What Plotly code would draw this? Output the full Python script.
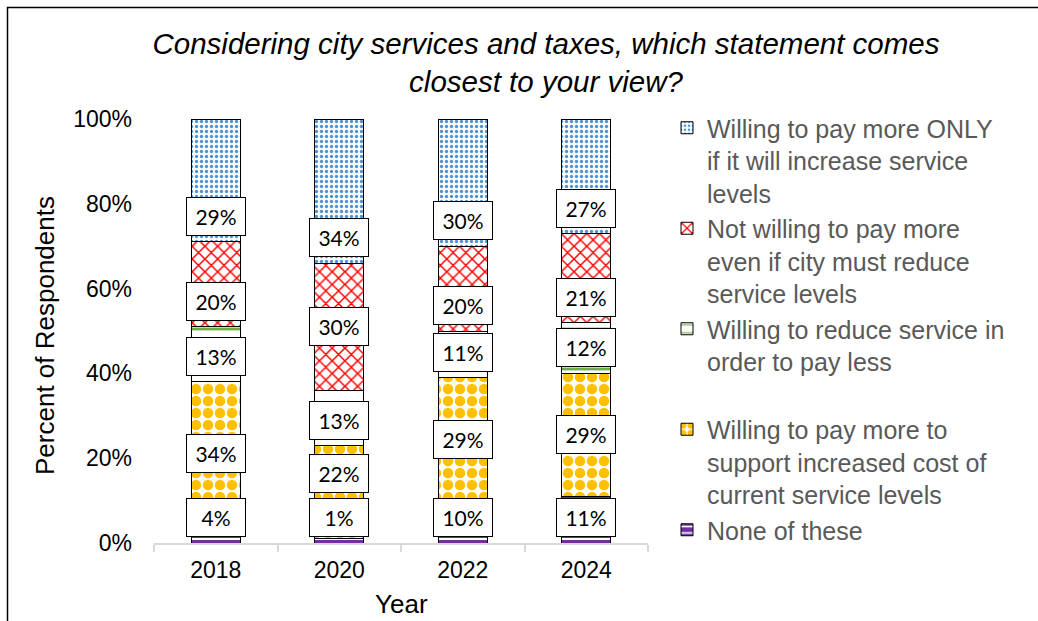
import plotly.graph_objects as go

years = ["2018", "2020", "2022", "2024"]
series_names = [
    "None of these",
    "Willing to pay more to<br>support increased cost of<br>current service levels",
    "Willing to reduce service in<br>order to pay less<br> ",
    "Not willing to pay more<br>even if city must reduce<br>service levels",
    "Willing to pay more ONLY<br>if it will increase service<br>levels",
]
none_of_these = [0.04, 0.01, 0.10, 0.11]
pay_more_support = [0.34, 0.22, 0.29, 0.29]
reduce_service = [0.13, 0.13, 0.11, 0.12]
not_willing = [0.20, 0.30, 0.20, 0.21]
pay_more_only = [0.29, 0.34, 0.30, 0.27]
series_values = [none_of_these, pay_more_support, reduce_service, not_willing, pay_more_only]
y_ticks = [0, 0.2, 0.4, 0.6, 0.8, 1.0]

patterns = [
    dict(shape="-", fgcolor="white", bgcolor="#7030A0", size=8, solidity=0.25, fgopacity=1),
    dict(shape=".", fgcolor="#FFC000", bgcolor="white", size=12, solidity=0.6, fgopacity=1),
    dict(shape="-", fgcolor="#70AD47", bgcolor="white", size=20, solidity=0.14, fgopacity=1),
    dict(shape="x", fgcolor="#FF0000", bgcolor="white", size=9, solidity=0.3, fgopacity=1),
    dict(shape=".", fgcolor="#4F93D2", bgcolor="white", size=5, solidity=0.35, fgopacity=1),
]

n_series = len(series_values)
fig = go.Figure()
for i, (name, vals) in enumerate(zip(series_names, series_values)):
    fig.add_trace(go.Bar(
        x=years, y=vals, name=name, legendgroup=f"g{i}", legendrank=100 - i,
        marker=dict(color="white", pattern=patterns[i],
                    line=dict(color="#000000", width=1)),
        hoverinfo="skip",
    ))

# data labels (boxed), positioned from the stacked data
annotations = []
for j, yr in enumerate(years):
    base = 0.0
    prev = None
    for i, vals in enumerate(series_values):
        v = vals[j]
        if v >= 0.25 and i != n_series - 1:
            yl = base + v / 2
        else:
            yl = base + 0.06
        if prev is not None and yl - prev < 0.105:
            yl = prev + 0.105
        prev = yl
        annotations.append(dict(
            x=j, y=yl, xref="x", yref="y", text=f"{round(v*100)}%",
            showarrow=False, font=dict(family="Lato, Carlito, sans-serif", size=21, color="#000000"),
            bgcolor="white", bordercolor="#000000", borderwidth=1, borderpad=4,
            width=50, height=29, xanchor="center", yanchor="middle",
        ))
        base += v

L, R, T, B = 154, 390, 119, 78
PW, PH = 1038 - L - R, 621 - T - B

def px_x(p):
    return (p - L) / PW

def px_y(p):
    return (621 - B - p) / PH

annotations.append(dict(
    x=px_x(45), y=px_y(336), xref="paper", yref="paper", text="Percent of Respondents",
    textangle=-90, showarrow=False,
    font=dict(family="Liberation Sans, Arial, sans-serif", size=26, color="#000000"),
    xanchor="center", yanchor="middle",
))
annotations.append(dict(
    x=px_x(401), y=px_y(604), xref="paper", yref="paper", text="Year",
    showarrow=False,
    font=dict(family="Liberation Sans, Arial, sans-serif", size=26, color="#000000"),
    xanchor="center", yanchor="middle",
))

fig.update_layout(
    width=1038, height=621,
    margin=dict(l=L, r=R, t=T, b=B, autoexpand=False),
    paper_bgcolor="white", plot_bgcolor="white",
    barmode="stack", bargap=0.603,
    title=dict(
        text="Considering city services and taxes, which statement comes<br>closest to your view?",
        x=546 / 1038, xref="container", xanchor="center",
        y=1 - 54 / 621, yref="container", yanchor="top",
        font=dict(family="Liberation Sans, Arial, sans-serif", size=29.5, color="#000000", style="italic"),
    ),
    showlegend=True,
    legend=dict(
        x=px_x(667), y=px_y(105), xanchor="left", yanchor="top",
        traceorder="grouped", valign="top", tracegroupgap=0, maxheight=600,
        font=dict(family="Liberation Sans, Arial, sans-serif", size=25, color="#595959"),
        bgcolor="rgba(0,0,0,0)",
    ),
    annotations=annotations,
    shapes=[dict(type="rect", xref="paper", yref="paper",
                 x0=px_x(7.5), x1=px_x(1046), y0=px_y(640), y1=px_y(7.5),
                 line=dict(color="#000000", width=1.5), fillcolor="rgba(0,0,0,0)", layer="below")],
)
fig.update_xaxes(
    type="category", showline=True, linecolor="#D9D9D9", linewidth=1.5,
    ticks="outside", tickson="boundaries", ticklen=7, tickcolor="#D9D9D9", tickwidth=1.5,
    showgrid=False, ticklabelstandoff=6,
    tickfont=dict(family="Liberation Sans, Arial, sans-serif", size=23, color="#000000"),
)
fig.update_yaxes(
    range=[0, 1], tickvals=y_ticks, tickformat=".0%", showgrid=False, zeroline=False,
    showline=False, ticks="", ticklabelstandoff=21,
    tickfont=dict(family="Liberation Sans, Arial, sans-serif", size=23, color="#000000"),
)

fig.write_html("out.html", config={"displayModeBar": False},
               post_script="document.body.style.margin='0px';")
